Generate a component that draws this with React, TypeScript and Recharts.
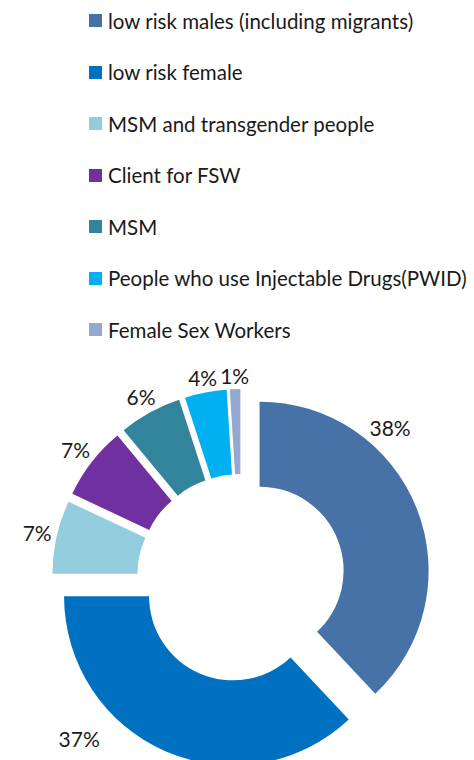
import { PieChart, Pie, Cell, Legend, Sector } from 'recharts';

const categories = [
  'low risk males (including migrants)',
  'low risk female',
  'MSM and transgender people',
  'Client for FSW',
  'MSM',
  'People who use Injectable Drugs(PWID)',
  'Female Sex Workers',
];
const shares = [38, 37, 7, 7, 6, 4, 1];
const colors = ['#4672A8', '#0070C0', '#93CDDD', '#7030A0', '#31849B', '#00B0F0', '#95A9D0'];

const data = categories.map((name, i) => ({ name, value: shares[i] }));

const RAD = Math.PI / 180;
const EXPLODE = 20; // px every slice is pulled out of the ring
const FONT = 'Lato, "Noto Sans", sans-serif';

// centre of a slice after it has been pulled out along its mid angle
function explode(cx: number, cy: number, midAngle: number) {
  return {
    x: cx + EXPLODE * Math.cos(-midAngle * RAD),
    y: cy + EXPLODE * Math.sin(-midAngle * RAD),
  };
}

function ExplodedSector(props: any) {
  const c = explode(props.cx, props.cy, props.midAngle);
  return <Sector {...props} cx={c.x} cy={c.y} stroke="none" />;
}

function renderLabel(props: any) {
  const { cx, cy, midAngle, startAngle, endAngle, outerRadius, percent, index } = props;
  const c = explode(cx, cy, midAngle);
  // the two big slices have their labels nudged away from their shared edge
  const big = percent > 0.3;
  const frac = big ? (index === 0 ? 0.31 : 0.68) : 0.5;
  const gap = big && index !== 0 ? 20 : 5;
  const angle = startAngle + (endAngle - startAngle) * frac;
  const cos = Math.cos(-angle * RAD);
  const sin = Math.sin(-angle * RAD);
  const text = `${Math.round(percent * 100)}%`;
  const halfW = text.length * 6.7;
  const r = outerRadius + gap + halfW * Math.abs(cos) + 8 * Math.abs(sin);
  return (
    <text
      x={c.x + r * cos}
      y={c.y + r * sin}
      textAnchor="middle"
      dominantBaseline="central"
      fill="#1a1a1a"
      fontSize={21}
      fontFamily={FONT}
    >
      {text}
    </text>
  );
}

function LegendList() {
  return (
    <div style={{ fontFamily: FONT, fontSize: 20.5, color: '#1a1a1a' }}>
      {categories.map((name, i) => (
        <div key={name} style={{ display: 'flex', alignItems: 'center', height: 51.5 }}>
          <span style={{ width: 13, height: 13, background: colors[i], marginRight: 6, flexShrink: 0 }} />
          <span style={{ whiteSpace: 'nowrap' }}>{name}</span>
        </div>
      ))}
    </div>
  );
}

export default function App() {
  return (
    <div style={{ position: 'absolute', top: 0, left: 0, width: 474, height: 760, background: '#fff' }}>
      <PieChart width={474} height={760} margin={{ top: 0, right: 0, bottom: 0, left: 0 }}>
        <Legend
          layout="vertical"
          align="center"
          verticalAlign="middle"
          content={<LegendList />}
          wrapperStyle={{ top: -5, left: 89, width: 385 }}
        />
        <Pie
          data={data}
          dataKey="value"
          nameKey="name"
          cx={241}
          cy={578}
          innerRadius={84}
          outerRadius={169}
          startAngle={90}
          endAngle={-270}
          paddingAngle={0}
          shape={ExplodedSector}
          activeShape={ExplodedSector}
          inactiveShape={ExplodedSector}
          label={renderLabel}
          labelLine={false}
          isAnimationActive={false}
        >
          {data.map((d, i) => (
            <Cell key={d.name} fill={colors[i]} />
          ))}
        </Pie>
      </PieChart>
    </div>
  );
}
